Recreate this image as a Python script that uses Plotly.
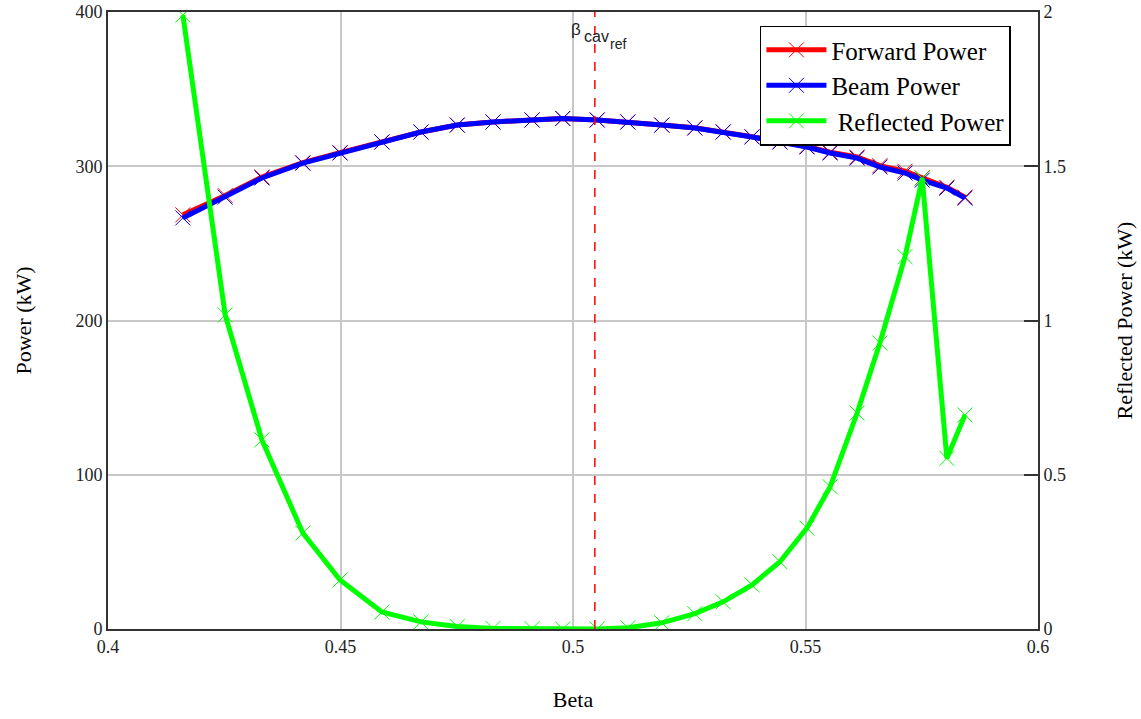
import plotly.graph_objects as go

beta = [0.4161, 0.4252, 0.4331, 0.4419, 0.4499, 0.4589, 0.4673, 0.4751, 0.4828,
        0.4912, 0.4978, 0.5052, 0.5118, 0.5191, 0.5262, 0.5323, 0.5385, 0.5445,
        0.5503, 0.5553, 0.5611, 0.5660, 0.5714, 0.5751, 0.5804, 0.5843]
beam_power = [266.5, 280.0, 292.4, 302.0, 308.6, 315.7, 322.2, 326.7, 328.7,
              330.0, 331.0, 330.0, 328.7, 326.7, 324.8, 322.2, 319.0, 315.7,
              312.5, 308.6, 305.3, 299.5, 295.6, 291.0, 285.8, 279.3]
forward_power = [268.5, 281.0, 293.0, 302.3, 308.8, 315.8, 322.2, 326.7, 328.7,
                 330.0, 331.0, 330.0, 328.7, 326.7, 324.9, 322.3, 319.1, 315.9,
                 312.8, 309.1, 306.0, 300.4, 296.8, 292.5, 286.4, 280.0]
reflected_power = [1.99, 1.018, 0.613, 0.311, 0.159, 0.055, 0.023, 0.008, 0.002,
                   0.001, 0.0, 0.0, 0.004, 0.02, 0.05, 0.088, 0.143, 0.218,
                   0.327, 0.461, 0.70, 0.927, 1.207, 1.461, 0.553, 0.694]
beta_cav_ref = 0.5047

x_ticks = [0.4, 0.45, 0.5, 0.55, 0.6]
x_tick_text = ["0.4", "0.45", "0.5", "0.55", "0.6"]
y_ticks = [0, 100, 200, 300, 400]
y2_ticks = [0, 0.5, 1, 1.5, 2]
y2_tick_text = ["0", "0.5", "1", "1.5", "2"]

serif = "Liberation Serif"

fig = go.Figure()

def add_series(x, y, name, color, yaxis):
    fig.add_trace(go.Scatter(
        x=x, y=y, name=name, yaxis=yaxis, mode="lines+markers",
        line=dict(color=color, width=5),
        marker=dict(symbol="x-thin", size=15, color=color,
                    line=dict(color=color, width=1)),
    ))

add_series(beta, forward_power, "Forward Power", "#ff0000", "y")
add_series(beta, beam_power, "Beam Power", "#0000ff", "y")
add_series(beta, reflected_power, " Reflected Power", "#00ff00", "y2")

fig.add_shape(type="line", xref="x", yref="paper", x0=beta_cav_ref, x1=beta_cav_ref,
              y0=0, y1=1, line=dict(color="#ff0000", width=1.5, dash="dash"))

# label: beta with nested subscripts cav / ref
lab_font = "Liberation Sans"
fig.add_annotation(x=beta_cav_ref, xref="x", y=400, yref="y", text="β",
                   showarrow=False, xanchor="right", yanchor="top",
                   xshift=-12, yshift=-6,
                   font=dict(family=lab_font, size=17, color="#222"))
fig.add_annotation(x=beta_cav_ref, xref="x", y=400, yref="y", text="cav",
                   showarrow=False, xanchor="left", yanchor="top",
                   xshift=-13, yshift=-14,
                   font=dict(family=lab_font, size=16, color="#222"))
fig.add_annotation(x=beta_cav_ref, xref="x", y=400, yref="y", text="ref",
                   showarrow=False, xanchor="left", yanchor="top",
                   xshift=13, yshift=-22,
                   font=dict(family=lab_font, size=14, color="#222"))

fig.update_layout(
    width=1141, height=719,
    margin=dict(l=108, r=103, t=12, b=90),
    paper_bgcolor="white", plot_bgcolor="white",
    showlegend=True,
    legend=dict(x=0.701, y=0.978, xanchor="left", yanchor="top",
                bgcolor="white", bordercolor="#000", borderwidth=1.5,
                font=dict(family=serif, size=25, color="#000"),
                tracegroupgap=0, itemwidth=60),
    xaxis=dict(range=[0.4, 0.6], tickvals=x_ticks, ticktext=x_tick_text,
               showgrid=True, gridcolor="#c8c8c8", gridwidth=1.5,
               showline=True, linecolor="#333", linewidth=2, mirror=True,
               ticks="", zeroline=False, automargin=False,
               tickfont=dict(family=serif, size=18, color="#222"),
               title=dict(text="Beta", font=dict(family=serif, size=22, color="#000"),
                          standoff=36)),
    yaxis=dict(range=[0, 400], tickvals=y_ticks,
               showgrid=True, gridcolor="#c8c8c8", gridwidth=1.5,
               showline=True, linecolor="#333", linewidth=2,
               ticks="", zeroline=False, automargin=False,
               tickfont=dict(family=serif, size=18, color="#222"),
               title=dict(text="Power (kW)", font=dict(family=serif, size=22, color="#000"),
                          standoff=38)),
    yaxis2=dict(range=[0, 2], tickvals=y2_ticks, ticktext=y2_tick_text,
                overlaying="y", side="right", showgrid=False,
                showline=True, linecolor="#333", linewidth=2,
                ticks="inside", ticklen=14, tickcolor="#333", tickwidth=1.5,
                zeroline=False, automargin=False,
                tickfont=dict(family=serif, size=18, color="#222"),
                title=dict(text="Reflected Power (kW)",
                           font=dict(family=serif, size=22, color="#000"),
                           standoff=52)),
)

fig.write_html("out.html", config={"displayModeBar": False},
               post_script="document.body.style.margin='0';")
